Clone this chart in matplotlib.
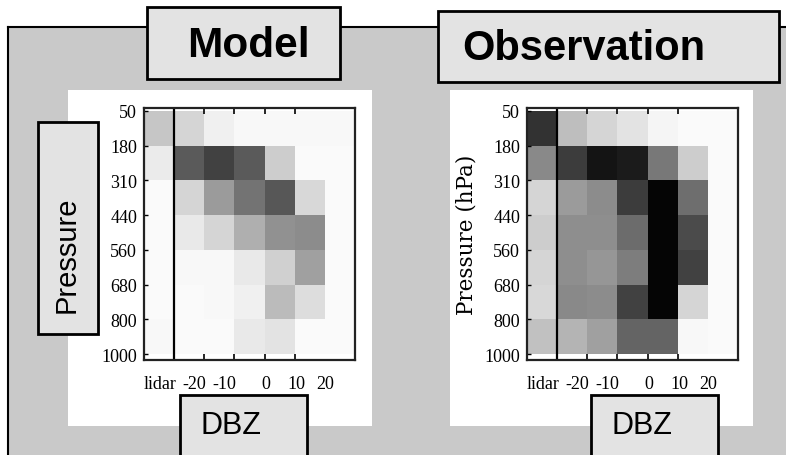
import numpy as np
import matplotlib
matplotlib.use("Agg")
import matplotlib.pyplot as plt
from matplotlib.patches import Rectangle
from matplotlib.lines import Line2D
from matplotlib.colors import LinearSegmentedColormap

# ---------------- data ----------------
pressure_labels = ["50", "180", "310", "440", "560", "680", "800", "1000"]
dbz_labels = ["lidar", "-20", "-10", "0", "10", "20"]
# columns: lidar, then six reflectivity bins; rows: pressure layers top->bottom
model_freq = [
    [0.21, 0.15, 0.04, 0.01, 0.01, 0.01, 0.01],
    [0.06, 0.64, 0.74, 0.64, 0.18, 0.00, 0.00],
    [0.00, 0.15, 0.38, 0.54, 0.65, 0.14, 0.00],
    [0.00, 0.07, 0.15, 0.30, 0.42, 0.44, 0.00],
    [0.00, 0.01, 0.01, 0.07, 0.17, 0.36, 0.00],
    [0.00, 0.00, 0.01, 0.04, 0.25, 0.12, 0.00],
    [0.01, 0.00, 0.00, 0.07, 0.09, 0.00, 0.00],
]
obs_freq = [
    [0.80, 0.24, 0.15, 0.09, 0.02, 0.00, 0.00],
    [0.45, 0.76, 0.92, 0.89, 0.52, 0.18, 0.00],
    [0.15, 0.38, 0.44, 0.76, 0.98, 0.56, 0.00],
    [0.18, 0.43, 0.43, 0.57, 0.98, 0.70, 0.00],
    [0.15, 0.43, 0.40, 0.50, 0.98, 0.74, 0.00],
    [0.14, 0.45, 0.44, 0.74, 0.98, 0.15, 0.00],
    [0.23, 0.28, 0.36, 0.60, 0.60, 0.01, 0.00],
]

# ---------------- layout helpers ----------------
W, H = 786, 456
fig = plt.figure(figsize=(W / 100, H / 100), dpi=100)
fig.patch.set_facecolor("white")


def fx(x):
    return x / W


def fy(y):
    return 1 - y / H


def prect(x0, y0, x1, y1, **kw):
    r = Rectangle((fx(x0), fy(y1)), fx(x1) - fx(x0), fy(y0) - fy(y1),
                  transform=fig.transFigure, **kw)
    fig.add_artist(r)
    return r


def pline(xs, ys, **kw):
    fig.add_artist(Line2D([fx(x) for x in xs], [fy(y) for y in ys],
                          transform=fig.transFigure, **kw))


GRAY = "#c9c9c9"
BOX = "#e3e3e3"

# gray background with left/top border
prect(8, 28, 800, 470, facecolor=GRAY, edgecolor="none", zorder=0)
pline([8, 8], [28, 460], color="black", lw=1.5, zorder=1)
pline([8, 790], [28, 28], color="black", lw=1.5, zorder=1)

# white panels
prect(68, 91, 372, 427, facecolor="white", edgecolor="none", zorder=1)
prect(450, 91, 753, 427, facecolor="white", edgecolor="none", zorder=1)

cmap = LinearSegmentedColormap.from_list("cfad", ["#fafafa", "#000000"])

tick_font = {"family": "Liberation Serif", "size": 13}
label_pos = [0.53, 1.68, 2.66, 4.05, 5.07, 6.0]


def draw_panel(x0, data, ylabel=None):
    ax = fig.add_axes([fx(x0), fy(361), fx(211), (361 - 109) / H])
    ax.set_zorder(3)
    arr = np.array(data)
    nr, nc = arr.shape
    ax.pcolormesh(np.arange(nc + 1), np.arange(nr + 1), arr, cmap=cmap,
                  vmin=0, vmax=1, shading="flat")
    ax.set_xlim(0, nc)
    ax.set_ylim(nr + 0.17, -0.08)
    ax.axvline(1, color="black", lw=1.6)
    ax.set_yticks(np.arange(nr + 1))
    ax.set_yticklabels(pressure_labels, fontdict=tick_font)
    ax.tick_params(axis="y", direction="in", length=3, width=1.0, pad=5)
    ax.set_xticks(label_pos)
    ax.set_xticklabels(dbz_labels, fontdict=tick_font)
    ax.tick_params(axis="x", which="major", length=0, pad=11)
    ax.set_xticks(np.arange(1, nc), minor=True)
    ax.tick_params(axis="x", which="minor", direction="in", length=4,
                   width=1.2, top=True, bottom=True)
    for s in ax.spines.values():
        s.set_linewidth(1.6)
        s.set_color("#222222")
    if ylabel:
        ax.set_ylabel(ylabel, family="DejaVu Serif", fontsize=15.5,
                      labelpad=5)
    return ax


draw_panel(144, model_freq)
draw_panel(527, obs_freq, ylabel="Pressure (hPa)")

# title boxes
prect(147, 8, 340, 80, facecolor=BOX, edgecolor="black", lw=2, zorder=5)
fig.text(fx(248), fy(46), "Model", ha="center", va="center",
         family="Liberation Sans", weight="bold", fontsize=30.5, zorder=6)
prect(438, 12, 779, 83, facecolor=BOX, edgecolor="black", lw=2, zorder=5)
fig.text(fx(462), fy(49), "Observation", ha="left", va="center",
         family="Liberation Sans", weight="bold", fontsize=30, zorder=6)

# Pressure box
prect(38, 123, 98, 335, facecolor=BOX, edgecolor="black", lw=2, zorder=5)
fig.text(fx(67), fy(255), "Pressure", ha="center", va="center", rotation=90,
         family="Liberation Sans", fontsize=21, zorder=6)

# DBZ boxes
for bx0, tx in [(180, 231), (591, 642)]:
    prect(bx0, 396, bx0 + 127, 458, facecolor=BOX, edgecolor="black", lw=2,
          zorder=5)
    fig.text(fx(tx), fy(426), "DBZ", ha="center", va="center",
             family="Liberation Sans", fontsize=22, zorder=6)

fig.savefig("out.png", dpi=100)
